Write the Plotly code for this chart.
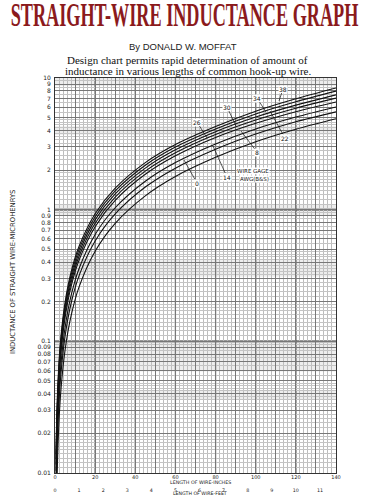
import numpy as np
import plotly.graph_objects as go

# ---------------- data ----------------
length_in = [0.5, 1, 2, 3, 5, 8, 12, 20, 30, 45, 60, 80, 100, 120, 140]
gauges = ["0", "8", "14", "22", "26", "30", "34", "38"]
L_awg0 = [0.0027, 0.0089, 0.0249, 0.0436, 0.0856, 0.156, 0.259, 0.483, 0.787, 1.273, 1.785, 2.496, 3.28, 4.08, 4.9]
L_awg8 = [0.0051, 0.0137, 0.0344, 0.0577, 0.1092, 0.1938, 0.3153, 0.5775, 0.928, 1.485, 2.067, 2.873, 3.75, 4.65, 5.53]
L_awg14 = [0.0068, 0.0172, 0.0414, 0.0683, 0.1268, 0.222, 0.3577, 0.648, 1.034, 1.644, 2.279, 3.156, 4.10, 5.05, 6.03]
L_awg22 = [0.0092, 0.0219, 0.0509, 0.0825, 0.1504, 0.2598, 0.4144, 0.7426, 1.176, 1.856, 2.563, 3.534, 4.53, 5.55, 6.58]
L_awg26 = [0.0104, 0.0243, 0.0556, 0.0896, 0.1622, 0.2787, 0.4427, 0.7897, 1.246, 1.962, 2.704, 3.722, 4.80, 5.90, 7.03]
L_awg30 = [0.0116, 0.0266, 0.0603, 0.0966, 0.174, 0.2975, 0.471, 0.8369, 1.317, 2.068, 2.846, 3.911, 5.05, 6.22, 7.45]
L_awg34 = [0.0127, 0.029, 0.065, 0.1037, 0.1858, 0.3163, 0.4991, 0.8838, 1.387, 2.174, 2.986, 4.099, 5.33, 6.60, 7.95]
L_awg38 = [0.0139, 0.0313, 0.0696, 0.1106, 0.1973, 0.3348, 0.5268, 0.930, 1.457, 2.278, 3.125, 4.283, 5.60, 6.95, 8.40]
series = [L_awg0, L_awg8, L_awg14, L_awg22, L_awg26, L_awg30, L_awg34, L_awg38]

y_tick_vals = [0.01, 0.02, 0.03, 0.04, 0.05, 0.06, 0.07, 0.08, 0.09,
               0.1, 0.2, 0.3, 0.4, 0.5, 0.6, 0.7, 0.8, 0.9,
               1, 2, 3, 4, 5, 6, 7, 8, 9, 10]
y_tick_text = ["0.01", "0.02", "0.03", "0.04", "0.05", "0.06", "0.07", "0.08", "0.09",
               "0.1", "0.2", "0.3", "0.4", "0.5", "0.6", "0.7", "0.8", "0.9",
               "1", "2", "3", "4", "5", "6", "7", "8", "9", "10"]
x_tick_vals = [0, 10, 20, 30, 40, 50, 60, 70, 80, 90, 100, 110, 120, 130, 140]
x_tick_text = ["0", "", "20", "", "40", "", "60", "", "80", "", "100", "", "120", "", "140"]
feet_ticks = [0, 1, 2, 3, 4, 5, 6, 7, 8, 9, 10, 11]

# ---------------- figure ----------------
W, H = 369, 500
ML, MR, MT, MB = 55, 33, 78, 27
PW, PH = W - ML - MR, H - MT - MB

fig = go.Figure()
for g, vals in zip(gauges, series):
    fig.add_trace(go.Scatter(x=length_in, y=vals, mode="lines", name="AWG " + g,
                             line=dict(color="#111", width=1.1, shape="spline", smoothing=0.8),
                             showlegend=False, hoverinfo="skip"))

# fine grid (graph-paper look)
fine_y = []
for b in [0.01, 0.1, 1]:
    fine_y += [b * v for v in np.arange(1.1, 2.0, 0.1)]
    fine_y += [b * v for v in [2.2, 2.4, 2.6, 2.8, 3.2, 3.4, 3.6, 3.8, 4.2, 4.4, 4.6, 4.8]]
    fine_y += [b * v for v in [5.5, 6.5, 7.5, 8.5, 9.5]]

def pp(px, py):
    return (px - ML) / PW, (H - MB - py) / PH

annos = []
x, y = pp(183, 39)
annos.append(dict(text="By DONALD W. MOFFAT", x=x, y=y, xref="paper", yref="paper", showarrow=False,
                  font=dict(family="Liberation Sans", size=9.5, color="#222")))
x, y = pp(187, 52)
annos.append(dict(text="Design chart permits rapid determination of amount of", x=x, y=y, xref="paper",
                  yref="paper", showarrow=False, font=dict(family="Liberation Serif", size=11, color="#111")))
x, y = pp(188, 63)
annos.append(dict(text="inductance in various lengths of common hook-up wire.", x=x, y=y, xref="paper",
                  yref="paper", showarrow=False, font=dict(family="Liberation Serif", size=11, color="#111")))
x, y = pp(200, 485.6)
annos.append(dict(text="LENGTH OF WIRE-INCHES", x=x, y=y, xref="paper", yref="paper", showarrow=False,
                  borderpad=0, font=dict(family="DejaVu Sans", size=4.8, color="#222")))
x, y = pp(200, 497.4)
annos.append(dict(text="LENGTH OF WIRE-FEET", x=x, y=y, xref="paper", yref="paper", showarrow=False,
                  borderpad=0, font=dict(family="DejaVu Sans", size=4.7, color="#222")))
x, y = pp(7, 272)
annos.append(dict(text="INDUCTANCE OF STRAIGHT WIRE-MICROHENRYS", x=x, y=y, xref="paper", yref="paper",
                  showarrow=False, textangle=-90, font=dict(family="DejaVu Sans", size=6.8, color="#222")))
x, y = pp(270, 167)
annos.append(dict(text="WIRE GAGE", x=x, y=y, xref="paper", yref="paper", showarrow=False,
                  bgcolor="white", borderpad=0, font=dict(family="DejaVu Sans", size=5.5, color="#111")))
x, y = pp(270, 175)
annos.append(dict(text="AWG(B&S)", x=x, y=y, xref="paper", yref="paper", showarrow=False,
                  bgcolor="white", borderpad=0, font=dict(family="DejaVu Sans", size=5.5, color="#111")))

leaders = [("0", (184, 160), (197, 183)), ("14", (213, 146), (227, 177)), ("8", (241, 131), (257, 152)),
           ("22", (270, 111), (285, 138)), ("26", (207, 138), (197, 122)), ("30", (236, 126), (227, 107)),
           ("34", (266, 112), (257, 98)), ("38", (279, 101), (283, 89))]
for lab, (tx, ty), (lx, ly) in leaders:
    xin = (tx - ML) / PW * 140
    ylog = 1 - (ty - MT) / PH * 3
    annos.append(dict(text=lab, x=xin, y=ylog, xref="x", yref="y", showarrow=True, arrowhead=0,
                      arrowwidth=0.7, arrowcolor="#111", ax=lx - tx, ay=ly - ty, standoff=0,
                      bgcolor="white", borderpad=0,
                      font=dict(family="DejaVu Sans", size=6, color="#111")))

shapes = []
# faint halftone bands of the printed graph paper
for lo, hi in [(8.7, 10), (3.7, 4.3), (0.9, 1.1), (0.31, 0.42), (0.059, 0.1), (0.036, 0.042)]:
    shapes.append(dict(type="rect", xref="paper", x0=0, x1=1, yref="y", y0=lo, y1=hi,
                       fillcolor="rgba(0,0,0,0.07)", line=dict(width=0), layer="below"))
for v in [0.1, 1]:
    shapes.append(dict(type="line", xref="paper", x0=0, x1=1, yref="y", y0=v, y1=v,
                       line=dict(color="#333", width=1.6), layer="below"))
for v in [20, 40, 60, 80, 100, 120]:
    shapes.append(dict(type="line", yref="paper", y0=0, y1=1, xref="x", x0=v, x1=v,
                       line=dict(color="#444", width=1.2), layer="below"))

fig.update_layout(
    width=W, height=H, margin=dict(l=ML, r=MR, t=MT, b=MB, autoexpand=False),
    paper_bgcolor="white", plot_bgcolor="white",
    title=dict(text="STRAIGHT-WIRE INDUCTANCE GRAPH", x=0.5, xanchor="center", y=1 - 15 / H,
               yanchor="middle", font=dict(family="Liberation Serif", size=18.2, color="#8b1a1c", weight=700)),
    xaxis=dict(range=[0, 140], tickvals=x_tick_vals, ticktext=x_tick_text, showgrid=True, automargin=False,
               gridcolor="#777", gridwidth=0.8, ticks="", zeroline=False, ticklabelstandoff=-1,
               showline=True, linecolor="#333", linewidth=1, mirror=True,
               tickfont=dict(family="DejaVu Sans", size=5.0, color="#222"),
               minor=dict(dtick=2, showgrid=True, gridcolor="#bdbdbd", gridwidth=0.5)),
    xaxis2=dict(range=[0, 140 / 12], overlaying="x", side="bottom", anchor="y", tickvals=feet_ticks,
                showgrid=False, showline=False, zeroline=False, ticks="", ticklabelstandoff=13, automargin=False,
                tickfont=dict(family="DejaVu Sans", size=4.8, color="#222")),
    yaxis=dict(type="log", range=[-2, 1], tickvals=y_tick_vals, ticktext=y_tick_text, showgrid=True,
               gridcolor="#777", gridwidth=0.8, ticks="", ticklabelstandoff=2, automargin=False,
               showline=True, linecolor="#333", linewidth=1, mirror=True,
               tickfont=dict(family="DejaVu Sans", size=6, color="#222"),
               minor=dict(tickvals=fine_y, showgrid=True, gridcolor="#c4c4c4", gridwidth=0.5)),
    annotations=annos, shapes=shapes,
)
fig.add_trace(go.Scatter(x=[], y=[], xaxis="x2", yaxis="y", showlegend=False, hoverinfo="skip"))

post = """
document.body.style.margin='0';
document.body.style.padding='0';
var gd=document.getElementById('{plot_id}');
function st(){var t=gd.querySelector('text.gtitle'); if(t){t.style.transformBox='fill-box';t.style.transformOrigin='50% 50%';t.style.transform='scaleY(1.85)';}}
st(); if(gd.on){gd.on('plotly_afterplot', st);}
"""
fig.write_html("out.html", post_script=post, config={"displayModeBar": False})
